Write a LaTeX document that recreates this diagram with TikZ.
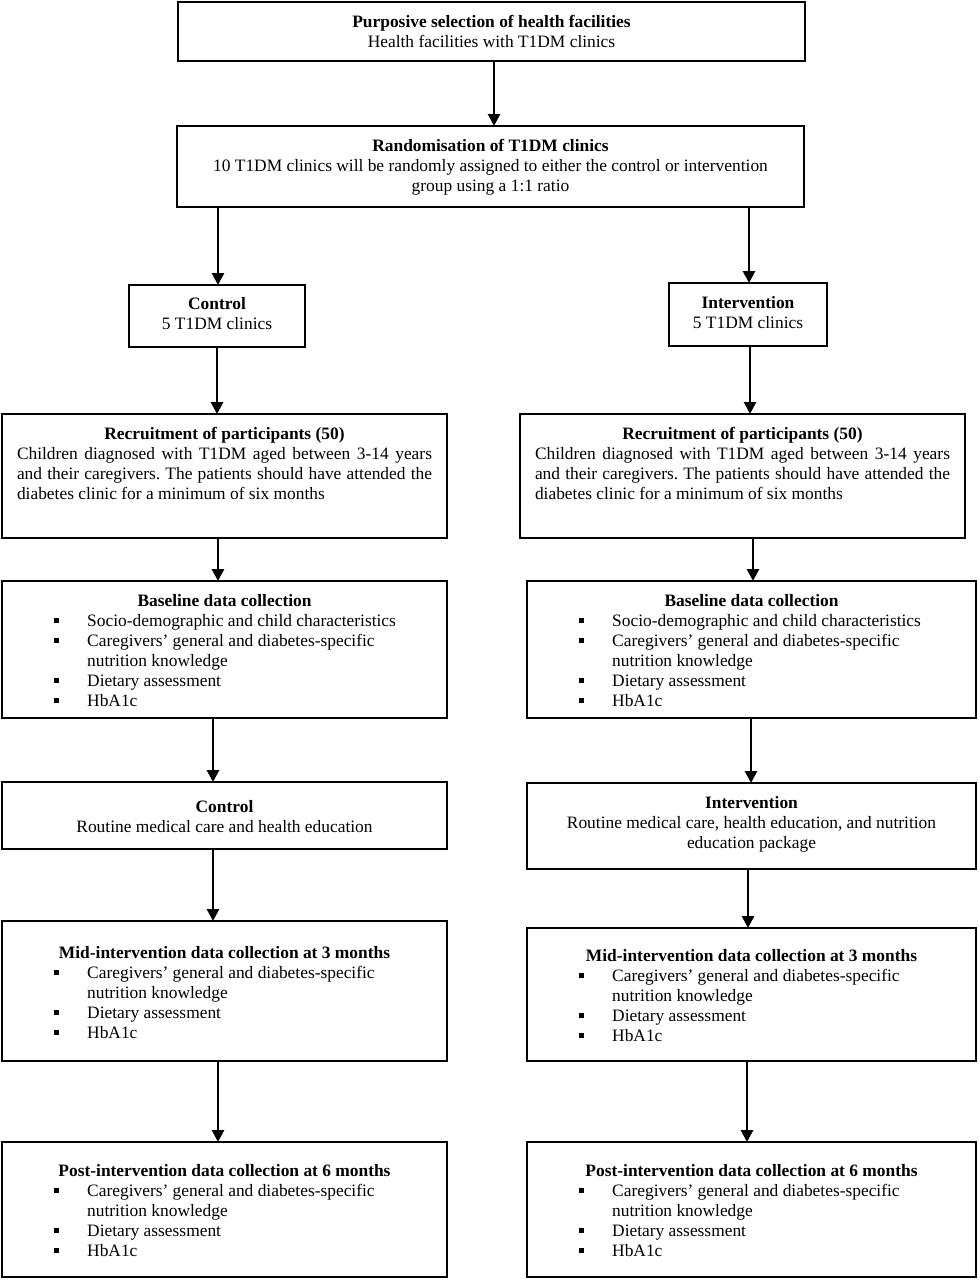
\documentclass[tikz,border=0pt]{standalone}
\usepackage{fontspec}
\setmainfont{Liberation Serif}
\usetikzlibrary{arrows.meta}
\frenchspacing
\newcommand{\bul}{\llap{\raisebox{3pt}{\rule{5.5pt}{5.5pt}}\hspace{28pt}}}
\begin{document}
\begin{tikzpicture}[x=1pt,y=-1pt,font=\fontsize{17.4pt}{20pt}\selectfont,
  box/.style={draw, line width=2pt, rectangle, inner sep=0pt, outer sep=0pt},
  txt/.style={anchor=north, inner sep=0pt, align=center},
  lst/.style={anchor=north west, inner sep=0pt, align=left},
  just/.style={anchor=north, inner sep=0pt, text width=415pt, align=justify},
  arr/.style={line width=2.8pt, -{Triangle[length=12pt,width=12pt]}}]
\useasboundingbox (0,0) rectangle (978,1280);
% boxes
\node[box, minimum width=627pt, minimum height=59pt] (top) at (491.5,31.5) {};
\node[box, minimum width=627pt, minimum height=81pt] (rand) at (490.5,166.5) {};
\node[box, minimum width=176pt, minimum height=62pt] (ctrl) at (217,316) {};
\node[box, minimum width=158pt, minimum height=63pt] (int) at (748,314.5) {};
\node[box, minimum width=445pt, minimum height=124pt] (recL) at (224.5,476) {};
\node[box, minimum width=445pt, minimum height=124pt] (recR) at (742.5,476) {};
\node[box, minimum width=445pt, minimum height=137pt] (baseL) at (224.5,649.5) {};
\node[box, minimum width=449pt, minimum height=137pt] (baseR) at (751.5,649.5) {};
\node[box, minimum width=445pt, minimum height=67pt] (treatL) at (224.5,815.5) {};
\node[box, minimum width=449pt, minimum height=86pt] (treatR) at (751.5,826) {};
\node[box, minimum width=445pt, minimum height=140pt] (midL) at (224.5,991) {};
\node[box, minimum width=449pt, minimum height=133pt] (midR) at (751.5,994.5) {};
\node[box, minimum width=445pt, minimum height=135pt] (postL) at (224.5,1209.5) {};
\node[box, minimum width=449pt, minimum height=135pt] (postR) at (751.5,1209.5) {};
% texts
\node[txt] (topT) at (491.5,13) {\strut\textbf{Purposive selection of health facilities}\\Health facilities with T1DM clinics};
\node[txt] (randT) at (490.5,137) {\strut\textbf{Randomisation of T1DM clinics}\\10 T1DM clinics will be randomly assigned to either the control or intervention\\group using a 1:1 ratio};
\node[txt] (ctrlT) at (217,295) {\strut\textbf{Control}\\5 T1DM clinics};
\node[txt] (intT) at (748,294) {\strut\textbf{Intervention}\\5 T1DM clinics};
\node[txt] (recLT) at (224.5,425) {\strut\textbf{Recruitment of participants (50)}};
\node[just] (recLB) at (224.5,445) {\strut Children diagnosed with T1DM aged between 3-14 years\linebreak and their caregivers. The patients should have attended the\linebreak diabetes clinic for a minimum of six months};
\node[txt] (recRT) at (742.5,425) {\strut\textbf{Recruitment of participants (50)}};
\node[just] (recRB) at (742.5,445) {\strut Children diagnosed with T1DM aged between 3-14 years\linebreak and their caregivers. The patients should have attended the\linebreak diabetes clinic for a minimum of six months};
% baseline
\node[txt] (baseLT) at (224.5,592) {\strut\textbf{Baseline data collection}};
\node[lst] (baseLL) at (87,612) {\strut\bul Socio-demographic and child characteristics\\\bul Caregivers’ general and diabetes-specific\\nutrition knowledge\\\bul Dietary assessment\\\bul HbA1c};
\node[txt] (baseRT) at (751.5,592) {\strut\textbf{Baseline data collection}};
\node[lst] (baseRL) at (612,612) {\strut\bul Socio-demographic and child characteristics\\\bul Caregivers’ general and diabetes-specific\\nutrition knowledge\\\bul Dietary assessment\\\bul HbA1c};
% treatment
\node[txt] (treatLT) at (224.5,798) {\strut\textbf{Control}\\Routine medical care and health education};
\node[txt] (treatRT) at (751.5,794) {\strut\textbf{Intervention}\\Routine medical care, health education, and nutrition\\education package};
% mid
\node[txt] (midLT) at (224.5,944) {\strut\textbf{Mid-intervention data collection at 3 months}};
\node[lst] (midLL) at (87,964) {\strut\bul Caregivers’ general and diabetes-specific\\nutrition knowledge\\\bul Dietary assessment\\\bul HbA1c};
\node[txt] (midRT) at (751.5,947) {\strut\textbf{Mid-intervention data collection at 3 months}};
\node[lst] (midRL) at (612,967) {\strut\bul Caregivers’ general and diabetes-specific\\nutrition knowledge\\\bul Dietary assessment\\\bul HbA1c};
% post
\node[txt] (postLT) at (224.5,1162) {\strut\textbf{Post-intervention data collection at 6 months}};
\node[lst] (postLL) at (87,1182) {\strut\bul Caregivers’ general and diabetes-specific\\nutrition knowledge\\\bul Dietary assessment\\\bul HbA1c};
\node[txt] (postRT) at (751.5,1162) {\strut\textbf{Post-intervention data collection at 6 months}};
\node[lst] (postRL) at (612,1182) {\strut\bul Caregivers’ general and diabetes-specific\\nutrition knowledge\\\bul Dietary assessment\\\bul HbA1c};
% connectors
\draw[arr] ([xshift=2.5pt]top.south) -- ([xshift=3.5pt]rand.north);
\draw[arr] ([xshift=41pt]rand.south west) -- ([xshift=89pt]ctrl.north west);
\draw[arr] ([xshift=572pt]rand.south west) -- ([xshift=80pt]int.north west);
\draw[arr] (ctrl.south) -- ([xshift=215pt]recL.north west);
\draw[arr] ([xshift=2pt]int.south) -- ([xshift=230pt]recR.north west);
\draw[arr] ([xshift=216pt]recL.south west) -- ([xshift=216pt]baseL.north west);
\draw[arr] ([xshift=233pt]recR.south west) -- ([xshift=226pt]baseR.north west);
\draw[arr] ([xshift=211pt]baseL.south west) -- ([xshift=211pt]treatL.north west);
\draw[arr] ([xshift=224pt]baseR.south west) -- ([xshift=224pt]treatR.north west);
\draw[arr] ([xshift=211pt]treatL.south west) -- ([xshift=211pt]midL.north west);
\draw[arr] ([xshift=221pt]treatR.south west) -- ([xshift=221pt]midR.north west);
\draw[arr] ([xshift=216pt]midL.south west) -- ([xshift=216pt]postL.north west);
\draw[arr] ([xshift=220pt]midR.south west) -- ([xshift=220pt]postR.north west);
\end{tikzpicture}
\end{document}
